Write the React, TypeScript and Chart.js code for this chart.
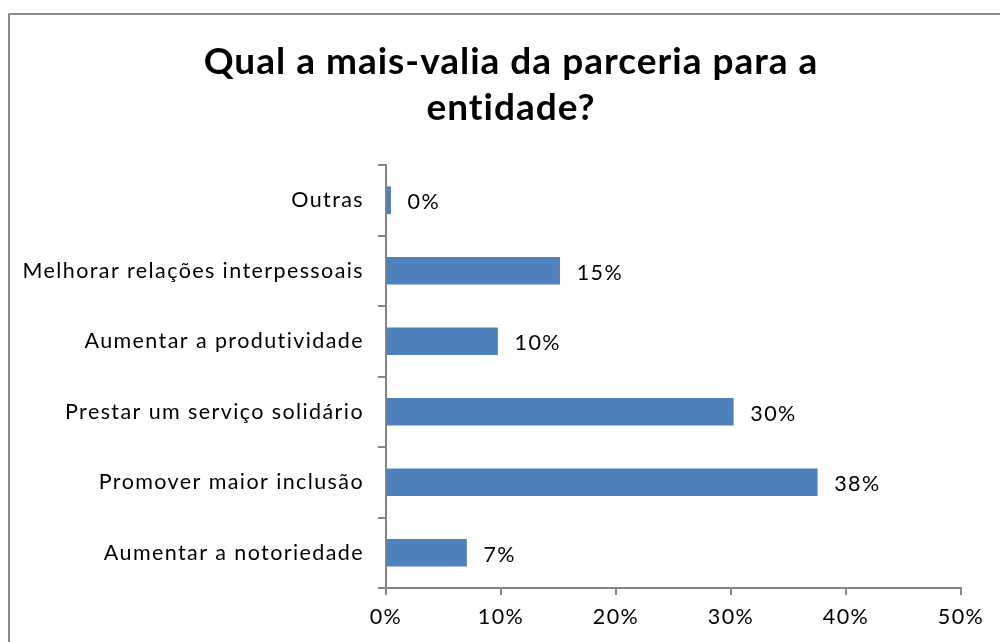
import React, { useEffect, useRef } from 'react';
import { Chart, registerables } from 'chart.js';

Chart.register(...registerables);

const titleLines = ['Qual a mais-valia da parceria para a', 'entidade?'];
const categories = [
  'Outras',
  'Melhorar relações interpessoais',
  'Aumentar a produtividade',
  'Prestar um serviço solidário',
  'Promover maior inclusão',
  'Aumentar a notoriedade',
];
const values = [0.4, 15.1, 9.7, 30.2, 37.5, 7.0];
const xTickValues = [0, 10, 20, 30, 40, 50];

const FONT = 'Lato, "Open Sans", sans-serif';
const AXIS_GRAY = '#868686';
const TEXT_SIZE = 21.5;
const TEXT_SPACING = '1.4px';

const titleAndSpacing = {
  id: 'titleAndSpacing',
  beforeDraw(chart: any) {
    const ctx = chart.ctx;
    ctx.save();
    ctx.font = `bold 37px ${FONT}`;
    ctx.fillStyle = '#000';
    ctx.textAlign = 'center';
    ctx.textBaseline = 'middle';
    (ctx as any).letterSpacing = '1px';
    titleLines.forEach((line, i) => {
      ctx.fillText(line, 511, 62 + i * 46);
    });
    ctx.restore();
    (ctx as any).letterSpacing = TEXT_SPACING;
  },
  afterDraw(chart: any) {
    (chart.ctx as any).letterSpacing = '0px';
  },
};

const valueLabels = {
  id: 'valueLabels',
  afterDatasetsDraw(chart: any) {
    const ctx = chart.ctx;
    const meta = chart.getDatasetMeta(0);
    ctx.save();
    ctx.font = `${TEXT_SIZE}px ${FONT}`;
    ctx.fillStyle = '#000';
    ctx.textAlign = 'left';
    ctx.textBaseline = 'middle';
    (ctx as any).letterSpacing = TEXT_SPACING;
    meta.data.forEach((bar: any, i: number) => {
      const v = chart.data.datasets[0].data[i];
      ctx.fillText(`${Math.round(v)}%`, bar.x + 17, bar.y + 2);
    });
    ctx.restore();
  },
};

export default function App() {
  const ref = useRef<HTMLCanvasElement>(null);
  useEffect(() => {
    if (!ref.current) return;
    const chart = new Chart(ref.current, {
      type: 'bar',
      data: {
        labels: categories,
        datasets: [
          {
            data: values,
            backgroundColor: '#4F81BD',
            borderWidth: 0,
            barThickness: 27,
          },
        ],
      },
      options: {
        indexAxis: 'y',
        animation: false,
        responsive: false,
        maintainAspectRatio: false,
        layout: { padding: { left: 20, right: 39, top: 165, bottom: 0 } },
        plugins: {
          legend: { display: false },
          tooltip: { enabled: false },
          title: { display: false },
        },
        scales: {
          x: {
            min: 0,
            max: 50,
            afterBuildTicks: (scale: any) => {
              scale.ticks = xTickValues.map((v) => ({ value: v }));
            },
            afterFit: (scale: any) => {
              scale.height = 54;
              scale.paddingLeft = 0;
              scale.paddingRight = 0;
            },
            ticks: {
              color: '#000',
              font: { family: FONT, size: TEXT_SIZE },
              padding: 9,
              maxRotation: 0,
              callback: (v: any) => `${v}%`,
            },
            grid: {
              drawOnChartArea: false,
              drawTicks: true,
              tickLength: 7,
              color: AXIS_GRAY,
              lineWidth: 2,
            },
            border: { display: true, color: AXIS_GRAY, width: 2 },
          },
          y: {
            afterFit: (scale: any) => {
              scale.width = 366;
            },
            ticks: {
              color: '#000',
              font: { family: FONT, size: TEXT_SIZE },
              padding: 14,
            },
            grid: {
              offset: true,
              drawOnChartArea: false,
              drawTicks: true,
              tickLength: 8,
              color: AXIS_GRAY,
              lineWidth: 2,
            },
            border: { display: true, color: AXIS_GRAY, width: 2 },
          },
        },
      },
      plugins: [titleAndSpacing, valueLabels],
    });
    return () => chart.destroy();
  }, []);

  return (
    <div style={{ position: 'absolute', left: 0, top: 0, width: 1000, height: 642, overflow: 'hidden', background: '#fff' }}>
      <div
        style={{
          position: 'absolute',
          left: 8,
          top: 13,
          width: 1100,
          height: 800,
          borderLeft: '2px solid #8a8a8a',
          borderTop: '2px solid #8a8a8a',
        }}
      />
      <canvas ref={ref} width={1000} height={642} style={{ position: 'absolute', left: 0, top: 0 }} />
    </div>
  );
}
